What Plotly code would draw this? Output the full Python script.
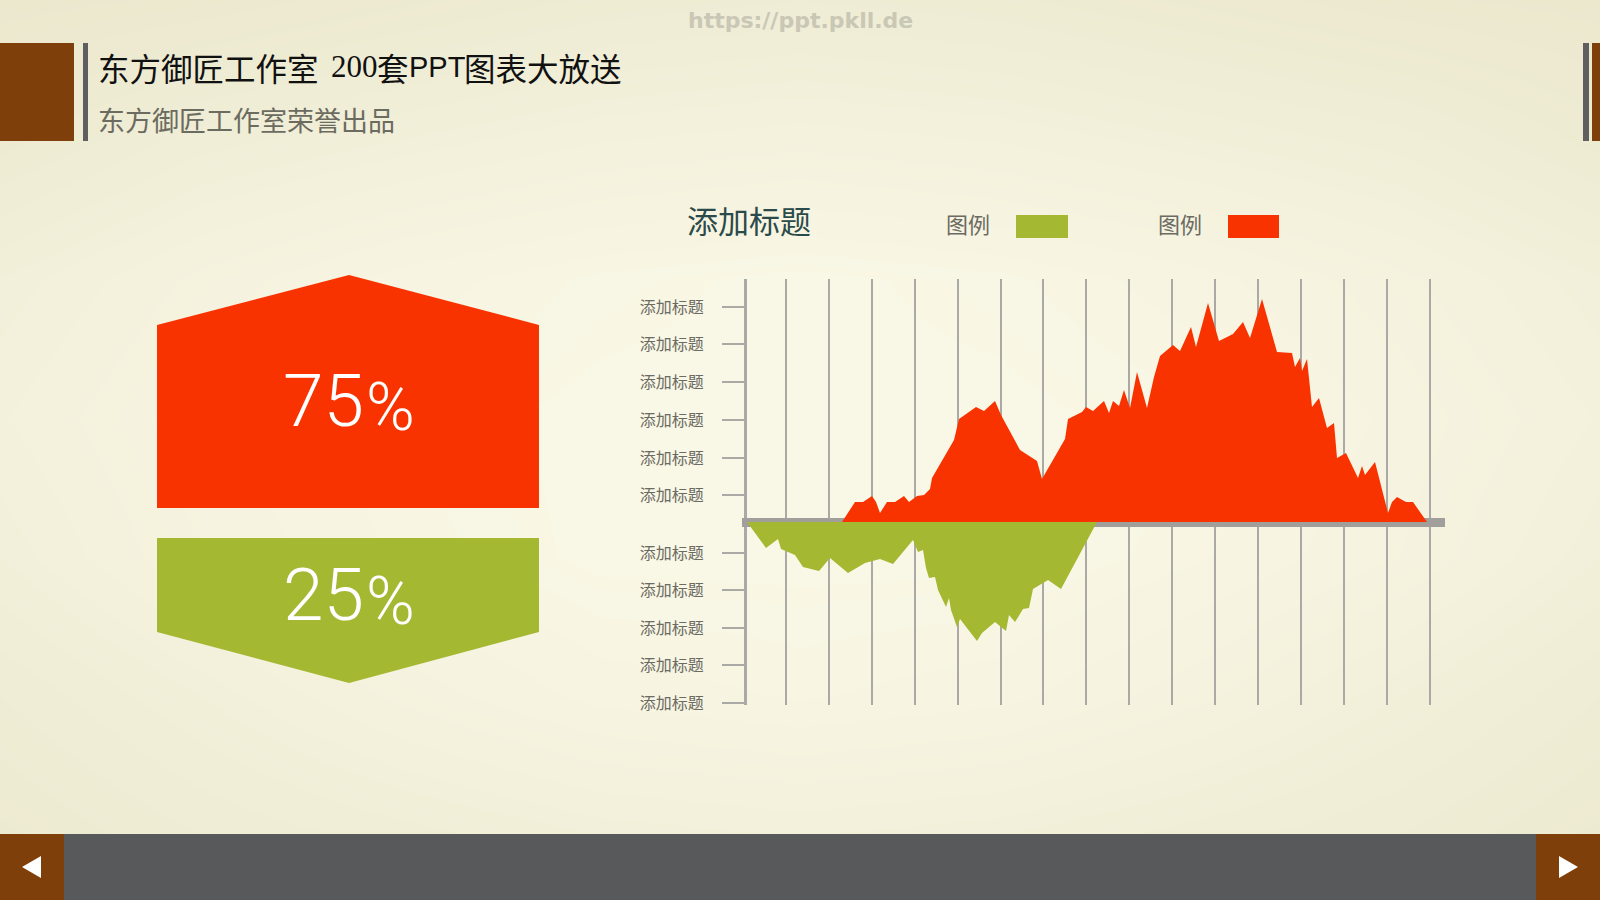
import plotly.graph_objects as go

W, H = 1600, 900

# chart values (x along the axis, height above/below the baseline)
red_x = [97, 110, 118, 127, 131, 135, 142, 150, 159, 164, 172, 179, 185, 187, 209, 214, 231, 239, 250, 256,
         275, 292, 297, 320, 323, 337, 341, 348, 359, 364, 368, 374, 379, 385, 392, 402, 409, 415, 428, 435,
         446, 451, 463, 474, 488, 498, 505, 517, 532, 547, 550, 555, 557, 562, 567, 574, 582, 589, 592, 601,
         613, 617, 620, 630, 643, 647, 652, 661, 668, 682]
red_y = [0, 20, 20, 26, 20, 9, 20, 20, 26, 20, 26, 27, 33, 44, 82, 103, 115, 111, 121, 107,
         72, 61, 43, 83, 103, 110, 115, 111, 121, 109, 121, 116, 132, 114, 150, 114, 145, 166, 177, 171,
         195, 175, 219, 181, 188, 200, 184, 223, 170, 169, 155, 164, 151, 163, 115, 124, 94, 99, 64, 69,
         44, 56, 47, 60, 9, 20, 25, 20, 20, 0]
green_x = [2, 7, 21, 33, 36, 50, 58, 74, 85, 103, 120, 135, 148, 168, 173, 178, 181, 184, 190, 193,
           201, 204, 206, 212, 215, 232, 237, 250, 261, 264, 270, 278, 284, 288, 303, 316, 352]
green_y = [0, -7, -26, -17, -27, -33, -45, -49, -36, -51, -41, -37, -42, -18, -30, -28, -46, -56, -55, -68,
           -85, -76, -88, -105, -97, -119, -111, -100, -109, -93, -100, -87, -86, -67, -58, -67, 0]

grid_x = [41, 84, 127, 170, 213, 256, 298, 341, 384, 427, 470, 513, 556, 599, 642, 685]
tick_vals = [215, 178, 140, 102, 64, 27, -31, -68, -106, -143, -181]
tick_labels = ["添加标题"] * 11

share_labels = ["75", "25"]
legend_labels = ["图例", "图例"]

# soft background shade, 0 = edge, 1 = centre
bg_shade = [
    [0.00, 0.05, 0.15, 0.25, 0.30, 0.25, 0.15, 0.05, 0.00],
    [0.20, 0.40, 0.50, 0.60, 0.65, 0.60, 0.50, 0.40, 0.20],
    [0.50, 0.70, 0.85, 0.95, 1.00, 0.95, 0.85, 0.70, 0.50],
    [0.60, 0.80, 0.95, 1.00, 1.00, 1.00, 0.95, 0.80, 0.60],
    [0.50, 0.75, 0.90, 1.00, 1.00, 1.00, 0.90, 0.75, 0.50],
    [0.30, 0.50, 0.70, 0.85, 0.90, 0.85, 0.70, 0.50, 0.30],
    [0.15, 0.30, 0.40, 0.50, 0.55, 0.50, 0.40, 0.30, 0.15],
]

RED = "#F93300"
GREEN = "#A5B832"
BROWN = "#7F3F0A"
SLATE = "#58595B"
LINE = "#ABA9A5"
CJK = "Noto Sans CJK SC"


def px(x):
    return x / W


def py(y):
    return 1 - y / H


def rect(x0, y0, x1, y1, color):
    return dict(type="rect", xref="paper", yref="paper", x0=px(x0), x1=px(x1), y0=py(y0), y1=py(y1),
                fillcolor=color, line_width=0, layer="above")


def poly(points, color):
    path = "M" + " L".join(f"{px(x):.5f},{py(y):.5f}" for x, y in points) + " Z"
    return dict(type="path", xref="paper", yref="paper", path=path, fillcolor=color, line_width=0, layer="above")


def label(text, x, y, size, color, anchor="left", font=CJK, weight=None):
    return dict(text=text, xref="paper", yref="paper", x=px(x), y=py(y), showarrow=False,
                xanchor=anchor, yanchor="middle",
                font=dict(family=font, size=size, color=color, weight=weight))


fig = go.Figure()

fig.add_trace(go.Heatmap(z=bg_shade, x0=0, dx=1, y0=0, dy=1, zsmooth="best", showscale=False, hoverinfo="skip",
                         zmin=0, zmax=1, colorscale=[[0, "#EBE8CE"], [1, "#F9F7E5"]], xaxis="x", yaxis="y"))

fig.add_trace(go.Scatter(x=red_x, y=red_y, mode="lines", fill="tozeroy", fillcolor=RED,
                         line=dict(width=0, color=RED), xaxis="x2", yaxis="y2", hoverinfo="skip"))
fig.add_trace(go.Scatter(x=green_x, y=green_y, mode="lines", fill="tozeroy", fillcolor=GREEN,
                         line=dict(width=0, color=GREEN), xaxis="x2", yaxis="y2", hoverinfo="skip"))

shapes = [
    # header blocks
    rect(0, 43, 74, 141, BROWN),
    rect(83, 43, 88, 141, "#5F5F5F"),
    rect(1583, 43, 1589, 141, "#5F5F5F"),
    rect(1592, 43, 1600, 141, BROWN),
    # footer
    rect(0, 834, W, H, SLATE),
    rect(0, 834, 64, H, BROWN),
    rect(1536, 834, W, H, BROWN),
    poly([(22, 867), (41, 856), (41, 878)], "white"),
    poly([(1578, 867), (1559, 856), (1559, 878)], "white"),
    # percentage badges
    poly([(157, 325), (349, 275), (539, 325), (539, 508), (157, 508)], RED),
    poly([(157, 538), (539, 538), (539, 632), (349, 683), (157, 632)], GREEN),
    # legend swatches
    rect(1016, 215, 1068, 238, GREEN),
    rect(1228, 215, 1279, 238, RED),
]

annotations = [
    label("https://ppt.pkll.de", 800, 21, 22, "#C9C7B5", "center", "DejaVu Sans", 700),
    label("东方御匠工作室", 96, 67, 31.5, "#111111"),
    label("200", 329, 67, 31, "#111111", font="Liberation Serif"),
    label("套", 375, 67, 31.5, "#111111"),
    label("PPT", 407, 67, 29, "#111111", font="Liberation Sans"),
    label("图表大放送", 462, 67, 31.5, "#111111"),
    label("东方御匠工作室荣誉出品", 96, 120, 27, "#6B6B5F"),
    label("添加标题", 685, 219, 31, "#2B4A4A"),
    label(legend_labels[0], 944, 223, 22, "#6B6B63"),
    label(legend_labels[1], 1156, 223, 22, "#6B6B63"),
    label(share_labels[0], 366, 401, 73, "white", "right", "Roboto", 300),
    label("%", 364, 407, 66, "white", "left", "Roboto", 300),
    label(share_labels[1], 366, 595, 73, "white", "right", "Roboto", 300),
    label("%", 364, 601, 66, "white", "left", "Roboto", 300),
]

fig.update_layout(
    width=W, height=H,
    margin=dict(l=0, r=0, t=0, b=0),
    paper_bgcolor="#F4F1DA",
    plot_bgcolor="rgba(0,0,0,0)",
    showlegend=False,
    shapes=shapes,
    annotations=annotations,
    # full-page background
    xaxis=dict(domain=[0, 1], range=[0, 8], visible=False, fixedrange=True, automargin=False),
    yaxis=dict(domain=[py(834), 1], range=[6, 0], visible=False, fixedrange=True, automargin=False),
    # the chart itself
    xaxis2=dict(domain=[px(742), px(1445)], range=[-3, 700], anchor="y2", tickmode="array", tickvals=grid_x,
                showticklabels=False, ticks="", showgrid=True, gridcolor=LINE, gridwidth=2, automargin=False,
                zeroline=True, zerolinecolor=LINE, zerolinewidth=3, fixedrange=True),
    yaxis2=dict(domain=[py(705), py(279)], range=[-183, 243], anchor="free", position=px(745), tickmode="array",
                tickvals=tick_vals, ticktext=tick_labels, ticks="outside", ticklen=23, tickwidth=2, automargin=False,
                tickcolor=LINE, ticklabelstandoff=15, tickfont=dict(family=CJK, size=16, color="#6B6B63"),
                showgrid=False, zeroline=True, zerolinecolor="#A09F9C", zerolinewidth=9, fixedrange=True),
)

# page must be exactly the figure size
page_fix = (
    "var s=document.createElement('style');"
    "s.textContent='html,body{margin:0;padding:0;width:1600px;height:900px;overflow:hidden}';"
    "document.head.appendChild(s);"
)
fig.write_html("out.html", config=dict(displayModeBar=False), post_script=page_fix)
